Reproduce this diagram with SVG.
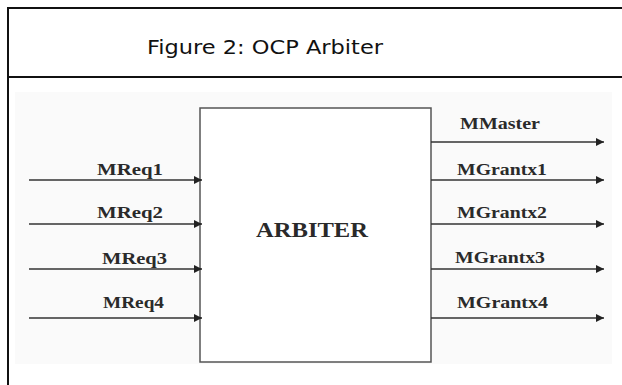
<svg xmlns="http://www.w3.org/2000/svg" width="622" height="385" viewBox="0 0 622 385">
<defs>
<style>
.title{font-family:"DejaVu Sans",sans-serif;font-size:20px;fill:#111}
.lbl{font-family:"Liberation Serif",serif;font-weight:bold;font-size:17px;fill:#2a2a2a}
.big{font-family:"Liberation Serif",serif;font-weight:bold;font-size:22px;fill:#2a2a2a}
.wire{stroke:#333;stroke-width:1.5;fill:none;marker-end:url(#ah)}
</style>
<marker id="ah" viewBox="0 0 10 10" refX="10" refY="5" markerWidth="10" markerHeight="8" markerUnits="userSpaceOnUse" orient="auto">
<path d="M0,0 L10,5 L0,10 Z" fill="#222"/>
</marker>
</defs>
<rect x="0" y="0" width="622" height="385" fill="#fff"/>
<rect x="8" y="8" width="700" height="420" fill="none" stroke="#111" stroke-width="2"/>
<line x1="8" y1="77" x2="622" y2="77" stroke="#111" stroke-width="2"/>
<text class="title" x="147" y="54" textLength="236" lengthAdjust="spacingAndGlyphs">Figure 2: OCP Arbiter</text>
<rect x="15" y="92" width="597" height="272" fill="#fafafa"/>
<g id="arbiter">
<rect x="200" y="108" width="231" height="254" fill="#fff" stroke="#555" stroke-width="1.5"/>
<text class="big" x="256" y="237" textLength="112" lengthAdjust="spacingAndGlyphs">ARBITER</text>
</g>
<g id="connectors">
<line class="wire" x1="29" y1="180" x2="202" y2="180"/>
<line class="wire" x1="29" y1="224" x2="202" y2="224"/>
<line class="wire" x1="29" y1="269" x2="202" y2="269"/>
<line class="wire" x1="29" y1="318" x2="202" y2="318"/>
<line class="wire" x1="431" y1="142" x2="604" y2="142"/>
<line class="wire" x1="431" y1="180" x2="604" y2="180"/>
<line class="wire" x1="431" y1="224" x2="604" y2="224"/>
<line class="wire" x1="431" y1="269" x2="604" y2="269"/>
<line class="wire" x1="431" y1="318" x2="604" y2="318"/>
</g>
<g id="labels">
<text class="lbl" x="97" y="175" textLength="66" lengthAdjust="spacingAndGlyphs">MReq1</text>
<text class="lbl" x="97" y="218" textLength="66" lengthAdjust="spacingAndGlyphs">MReq2</text>
<text class="lbl" x="102" y="264" textLength="65" lengthAdjust="spacingAndGlyphs">MReq3</text>
<text class="lbl" x="103" y="308" textLength="61" lengthAdjust="spacingAndGlyphs">MReq4</text>
<text class="lbl" x="460" y="129" textLength="80" lengthAdjust="spacingAndGlyphs">MMaster</text>
<text class="lbl" x="457" y="175" textLength="90" lengthAdjust="spacingAndGlyphs">MGrantx1</text>
<text class="lbl" x="457" y="218" textLength="90" lengthAdjust="spacingAndGlyphs">MGrantx2</text>
<text class="lbl" x="455" y="263" textLength="90" lengthAdjust="spacingAndGlyphs">MGrantx3</text>
<text class="lbl" x="457" y="308" textLength="91" lengthAdjust="spacingAndGlyphs">MGrantx4</text>
</g>
</svg>
